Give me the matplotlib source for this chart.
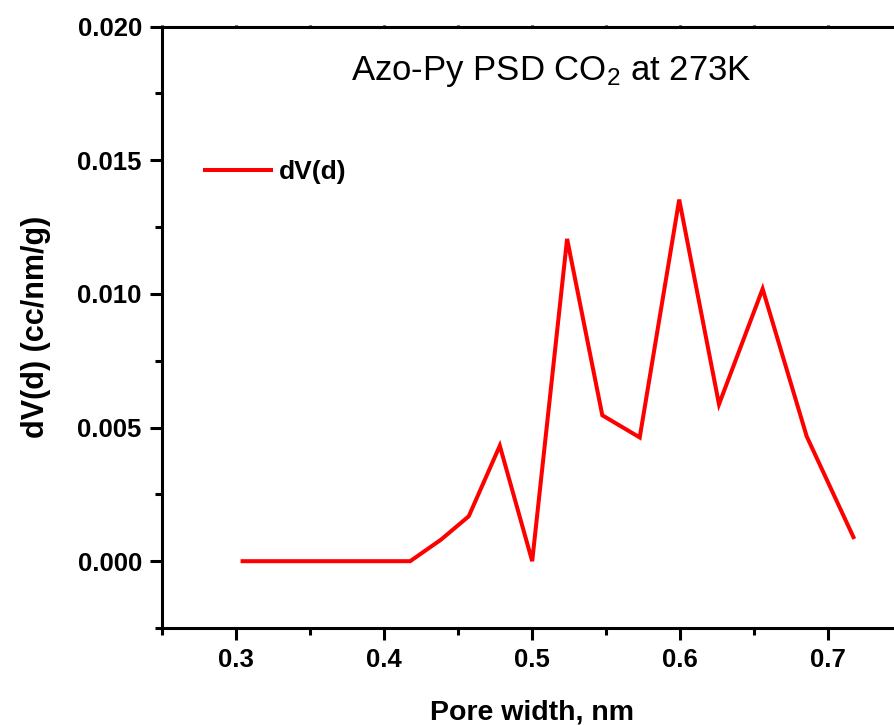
import matplotlib
matplotlib.use("Agg")
import matplotlib.pyplot as plt
from matplotlib.ticker import MultipleLocator

pore_width = [0.3045, 0.3500, 0.4178, 0.4385, 0.4574, 0.4784, 0.5003, 0.5239,
              0.5477, 0.5730, 0.5997, 0.6266, 0.6561, 0.6859, 0.7175]
dv = [0.0, 0.0, 0.0, 0.0008, 0.00168, 0.00432, 0.0, 0.01206,
      0.00546, 0.00463, 0.01353, 0.00587, 0.01019, 0.00467, 0.0009]

title = "Azo-Py PSD CO$_\\mathregular{2}$ at 273K"
xlabel = "Pore width, nm"
ylabel = "dV(d) (cc/nm/g)"
legend_label = "dV(d)"

plt.rcParams['font.family'] = ['Liberation Sans', 'DejaVu Sans']
plt.rcParams['mathtext.default'] = 'regular'

fig = plt.figure(figsize=(8.94, 7.25), dpi=100)
ax = fig.add_axes([0.1812, 0.1338, 0.8272, 0.8294])

ax.plot(pore_width, dv, color='#ff0000', linewidth=2.9, label=legend_label,
        solid_joinstyle='miter')

ax.set_xlim(0.25, 0.75)
ax.set_ylim(-0.0025, 0.020)
ax.xaxis.set_minor_locator(MultipleLocator(0.05))
ax.yaxis.set_minor_locator(MultipleLocator(0.0025))
ax.set_xticks([0.3, 0.4, 0.5, 0.6, 0.7])
ax.set_xticklabels(["0.3", "0.4", "0.5", "0.6", "0.7"])
ax.set_yticks([0.0, 0.005, 0.010, 0.015, 0.020])
ax.set_yticklabels(["0.000", "0.005", "0.010", "0.015", "0.020"])

for s in ax.spines.values():
    s.set_linewidth(2.2)
ax.tick_params(which='major', direction='out', length=8.5, width=2.2,
               labelsize=18.5, pad=6)
ax.tick_params(which='minor', direction='out', length=5, width=2.2)
ax.tick_params(axis='x', which='both', top=True, labeltop=False)
for lab in ax.get_xticklabels() + ax.get_yticklabels():
    lab.set_fontweight('bold')
for t in ax.xaxis.get_major_ticks() + ax.xaxis.get_minor_ticks():
    t.tick2line.set_markersize(1.5)

ax.set_xlabel(xlabel, fontsize=20.5, fontweight='bold', labelpad=20)
ax.set_ylabel(ylabel, fontsize=22, fontweight='bold', labelpad=19)

ax.text(0.527, 0.925, title, transform=ax.transAxes, fontsize=25,
        ha='center', va='center')

leg = ax.legend(loc='center left', bbox_to_anchor=(0.058, 0.758), frameon=False,
                handlelength=2.5, handletextpad=0.3, borderpad=0, borderaxespad=0,
                prop={'weight': 'bold', 'size': 19})

fig.savefig("out.png", dpi=100)
